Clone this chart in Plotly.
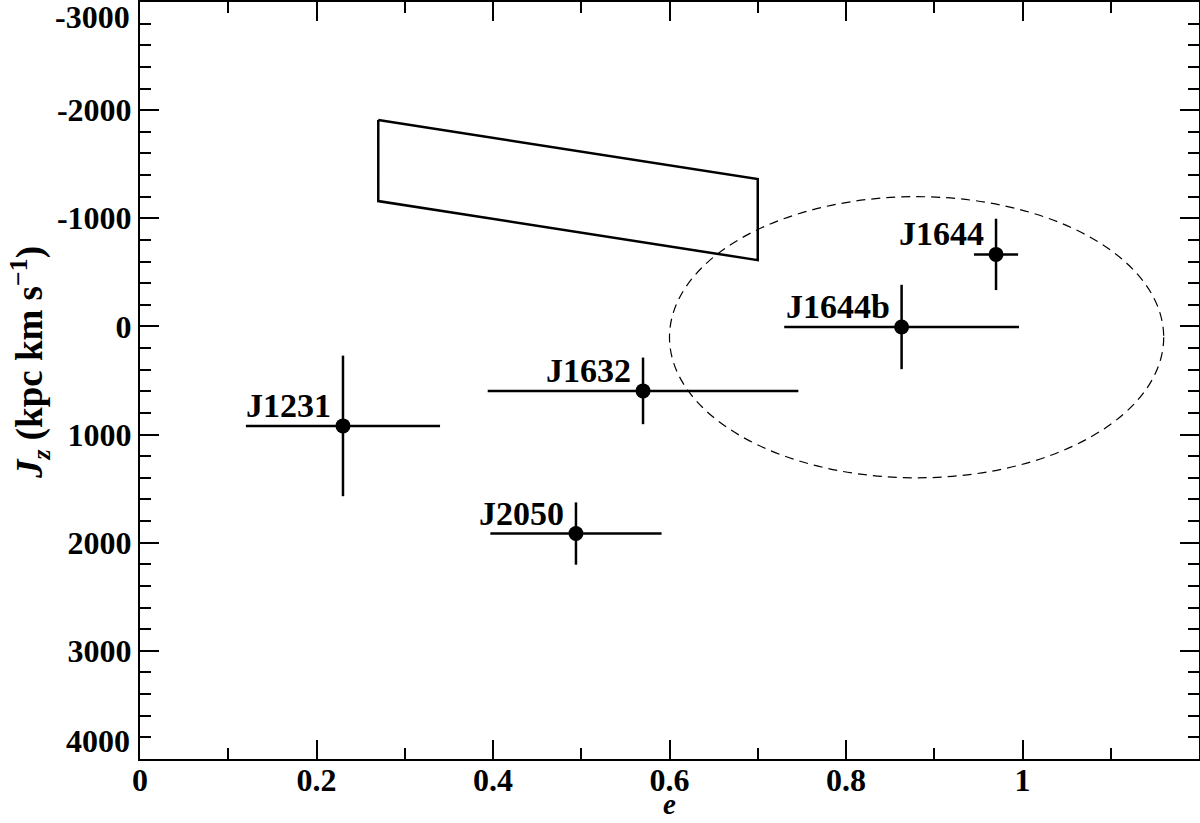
import plotly.graph_objects as go

# ---- data ----
names = ["J1231", "J1632", "J1644b", "J1644", "J2050"]
ecc = [0.230, 0.570, 0.863, 0.970, 0.494]
ecc_err = [0.110, 0.176, 0.133, 0.025, 0.097]
jz = [920, 596, 5, -666, 1915]
jz_err = [650, 308, 390, 330, 288]

# parallelogram region (e, Jz)
box_e = [0.27, 0.70, 0.70, 0.27, 0.27]
box_jz = [-1908, -1363, -613, -1159, -1908]

# dashed ellipse: centre and semi-axes
ell_e0, ell_jz0 = 0.88, 100
ell_ae, ell_ajz = 0.28, 1300

x_tickvals = [0, 0.2, 0.4, 0.6, 0.8, 1.0]
x_ticktext = ["0", "0.2", "0.4", "0.6", "0.8", "1"]
y_tickvals = [-2000, -1000, 0, 1000, 2000, 3000]
y_ticktext = ["-2000", "-1000", "0", "1000", "2000", "3000"]
y_edge_labels = ["-3000", "4000"]
y_edge_pos = [-2865, 3830]

FONT = "Liberation Serif"

fig = go.Figure()

fig.add_trace(go.Scatter(
    x=box_e, y=box_jz, mode="lines",
    line=dict(color="black", width=2.5), hoverinfo="skip", showlegend=False))

fig.add_trace(go.Scatter(
    x=ecc, y=jz, mode="markers",
    marker=dict(color="black", size=15),
    error_x=dict(type="data", array=ecc_err, color="black", thickness=2.5, width=0),
    error_y=dict(type="data", array=jz_err, color="black", thickness=2.5, width=0),
    showlegend=False))

fig.add_shape(type="circle", xref="x", yref="y",
              x0=ell_e0 - ell_ae, x1=ell_e0 + ell_ae,
              y0=ell_jz0 - ell_ajz, y1=ell_jz0 + ell_ajz,
              line=dict(color="black", width=1.2, dash="9px,6px"))

for n, xv, yv in zip(names, ecc, jz):
    fig.add_annotation(x=xv, y=yv, text=n, showarrow=False,
                       xanchor="right", yanchor="bottom", xshift=-10, yshift=0,
                       font=dict(family=FONT, size=34, color="black", weight="bold"))

for t, p in zip(y_edge_labels, y_edge_pos):
    fig.add_annotation(x=0, xref="paper", y=p, yref="y", text=t, showarrow=False,
                       xanchor="right", yanchor="middle", xshift=-8,
                       font=dict(family=FONT, size=32, color="black", weight="bold"))

# axis titles
fig.add_annotation(x=0.5, xref="paper", y=0, yref="paper", text="<i>e</i>",
                   showarrow=False, xanchor="center", yanchor="middle", yshift=-45,
                   borderpad=0,
                   font=dict(family=FONT, size=29, color="black", weight="bold"))
fig.add_annotation(x=0, xref="paper", y=0.523, yref="paper",
                   text="<i>J</i><sub><i>z</i></sub> (kpc km s<sup>−1</sup>)",
                   textangle=-90, showarrow=False, xanchor="center", yanchor="middle",
                   xshift=-110,
                   font=dict(family=FONT, size=37, color="black", weight="bold"))

axis_common = dict(
    showgrid=False, zeroline=False, showline=True, linecolor="black", linewidth=2,
    mirror="allticks", ticks="inside", ticklen=19, tickwidth=1.5, tickcolor="black",
    tickfont=dict(family=FONT, size=32, color="black", weight="bold"),
    automargin=False,
)

fig.update_xaxes(
    range=[0, 1.2], tickmode="array", tickvals=x_tickvals, ticktext=x_ticktext,
    ticklabelstandoff=-8,
    minor=dict(ticks="inside", ticklen=11, tickwidth=1.5, tickcolor="black", dtick=0.1, tick0=0),
    **axis_common)

fig.update_yaxes(
    range=[4000, -3000], tickmode="array", tickvals=y_tickvals, ticktext=y_ticktext,
    minor=dict(ticks="inside", ticklen=11, tickwidth=1.5, tickcolor="black", dtick=200, tick0=0),
    **axis_common)

fig.update_layout(
    width=1200, height=823,
    margin=dict(l=140, r=1, t=2, b=64),
    plot_bgcolor="white", paper_bgcolor="white",
    showlegend=False,
)

fig.write_html(
    "out.html",
    config={"displayModeBar": False},
    post_script="document.body.style.margin='0';document.documentElement.style.overflow='hidden';document.body.style.overflow='hidden';",
)
